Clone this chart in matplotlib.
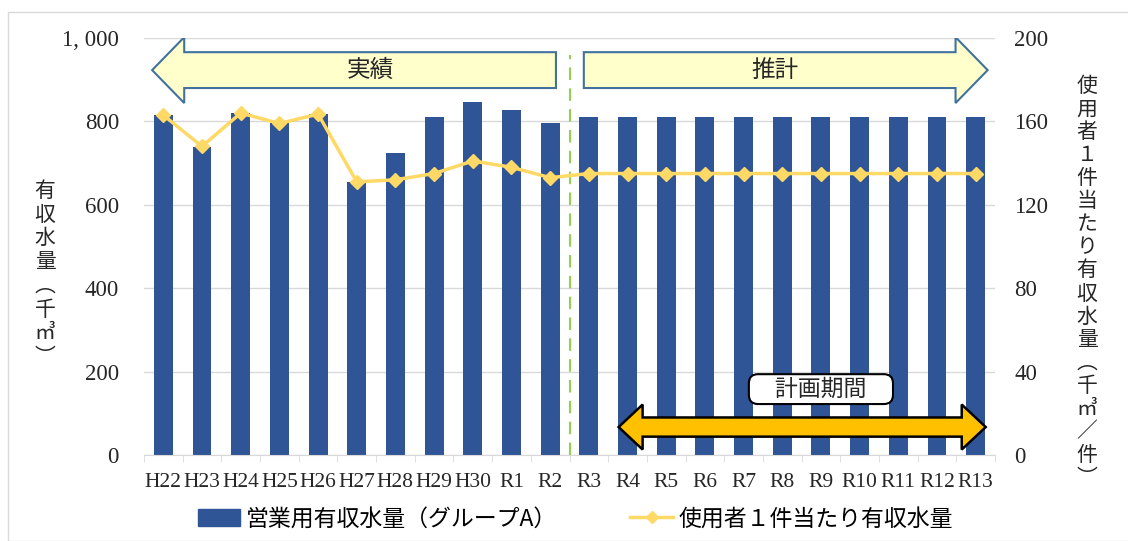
import numpy as np
import matplotlib.pyplot as plt
from matplotlib.patches import FancyArrow, Polygon, Rectangle
from matplotlib.lines import Line2D

JP = ['Noto Sans CJK JP', 'DejaVu Sans']
SERIF = ['Liberation Serif', 'DejaVu Serif']
plt.rcParams['font.family'] = JP

years = ["H22", "H23", "H24", "H25", "H26", "H27", "H28", "H29", "H30", "R1", "R2",
         "R3", "R4", "R5", "R6", "R7", "R8", "R9", "R10", "R11", "R12", "R13"]
volume = [815, 739, 820, 796, 818, 655, 724, 810, 846, 827, 796,
          810, 810, 810, 810, 810, 810, 810, 810, 810, 810, 810]
per_user = [163, 148, 164, 159, 163.5, 131, 132, 135, 141, 138, 133,
            135, 135, 135, 135, 135, 135, 135, 135, 135, 135, 135]
left_ticks = [0, 200, 400, 600, 800, 1000]
left_labels = ["0", "200", "400", "600", "800", "1, 000"]
right_ticks = [0, 40, 80, 120, 160, 200]

bar_color = "#2F5597"
line_color = "#FFD966"

fig = plt.figure(figsize=(11.28, 5.41), dpi=100)
fig.patches.append(Rectangle((8 / 1128, 0), 1.2, 1 - 12 / 541, transform=fig.transFigure,
                             fill=False, edgecolor="#D9D9D9", lw=1))
ax = fig.add_axes([144 / 1128, 1 - 455 / 541, 851 / 1128, 417 / 541])
ax2 = ax.twinx()

x = np.arange(len(years))
ax.bar(x, volume, width=0.49, color=bar_color, zorder=2)
ax.set_xlim(-0.5, len(years) - 0.5)
ax.set_ylim(0, 1000)
ax.set_yticks(left_ticks)
ax.set_yticklabels(left_labels, family=SERIF, fontsize=16.5, color="#262626")
ax.yaxis.grid(True, color="#D9D9D9", lw=1, zorder=0)
ax.set_axisbelow(True)
ax.set_xticks(x)
ax.set_xticklabels(years, family=SERIF, fontsize=15.5, color="#262626")
ax.set_xticks(np.arange(-0.5, len(years)), minor=True)
ax.tick_params(axis="x", which="major", length=0, pad=13)
ax.tick_params(axis="x", which="minor", length=5, color="#D9D9D9")
ax.tick_params(axis="y", length=0, pad=18)
for s in ["top", "left", "right"]:
    ax.spines[s].set_visible(False)
    ax2.spines[s].set_visible(False)
ax.spines["bottom"].set_color("#D9D9D9")
ax2.spines["bottom"].set_visible(False)

ax2.plot(x, per_user, color=line_color, lw=2.5, marker="D", markersize=7, zorder=3)
ax2.set_ylim(0, 200)
ax2.set_yticks(right_ticks)
ax2.set_yticklabels([str(t) for t in right_ticks], family=SERIF, fontsize=16.5, color="#262626")
ax2.tick_params(axis="y", length=0, pad=14)

# axis titles, stacked vertically
fig.text(45 / 1128, 1 - 274 / 541, "\n".join("有収水量︵千㎥︶"), ha="center", va="center",
         fontsize=15, linespacing=1.1, color="#262626")
fig.text(1087 / 1128, 1 - 282 / 541, "\n".join("使用者１件当たり有収水量︵千㎥／件︶"),
         ha="center", va="center", fontsize=15, linespacing=1.06, color="#262626")

# 実績 / 推計 arrows
ax.add_patch(FancyArrow(10.15, 923, -10.44, 0, width=86, head_width=158, head_length=0.83,
                        length_includes_head=True, facecolor="#FFFFCC", edgecolor="#41719C",
                        lw=1.5, zorder=5))
ax.text(5.34, 923, "実績", ha="center", va="center", fontsize=17, zorder=6, color="#262626")
ax.add_patch(FancyArrow(10.87, 923, 10.44, 0, width=86, head_width=158, head_length=0.83,
                        length_includes_head=True, facecolor="#FFFFCC", edgecolor="#41719C",
                        lw=1.5, zorder=5))
ax.text(15.8, 923, "推計", ha="center", va="center", fontsize=17, zorder=6, color="#262626")
ax.plot([10.5, 10.5], [0, 960], color="#92D050", lw=1.5, ls=(0, (6, 4)), zorder=4)

# 計画期間 double arrow
x0, x1, yc = 11.77, 21.26, 67
hl, sw, hw = 0.62, 23, 54
ax.add_patch(Polygon([(x0, yc), (x0 + hl, yc + hw), (x0 + hl, yc + sw), (x1 - hl, yc + sw),
                      (x1 - hl, yc + hw), (x1, yc), (x1 - hl, yc - hw), (x1 - hl, yc - sw),
                      (x0 + hl, yc - sw), (x0 + hl, yc - hw)], closed=True,
                     facecolor="#FFC000", edgecolor="black", lw=1.8, zorder=5))
ax.text(17.0, 158, "　計画期間　", ha="center", va="center", fontsize=16.5, zorder=6,
        color="#262626",
        bbox=dict(boxstyle="round,pad=0.15,rounding_size=0.4", facecolor="white",
                  edgecolor="black", lw=1.5))

handles = [Rectangle((0, 0), 1, 1, color=bar_color),
           Line2D([], [], color=line_color, lw=2.5, marker="D", markersize=6)]
fig.legend(handles, ["営業用有収水量（グループA）", "使用者１件当たり有収水量"],
           loc="center", bbox_to_anchor=(0.51, 1 - 519 / 541), ncol=2, frameon=False,
           fontsize=16.5, handlelength=1.85, columnspacing=3.2, handletextpad=0.25)

fig.savefig("out.png", dpi=100)
